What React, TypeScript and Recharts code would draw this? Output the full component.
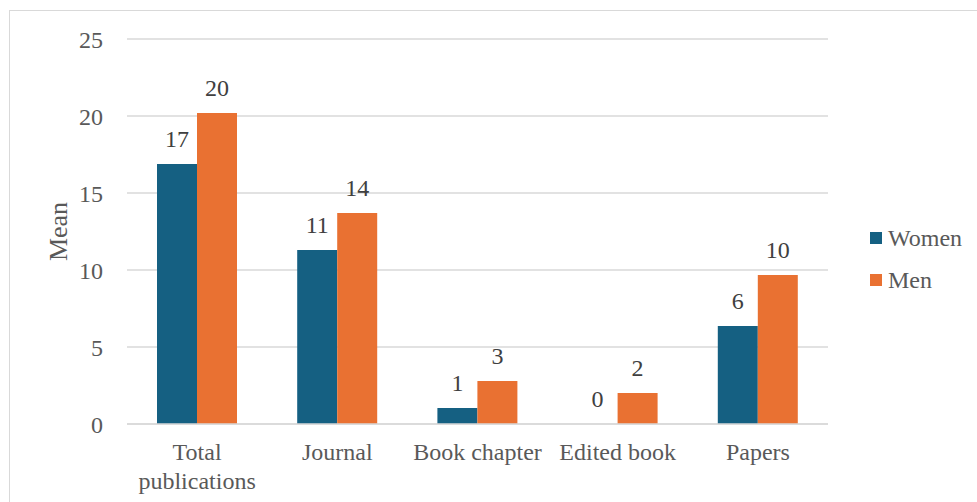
import React from 'react';
import { BarChart, Bar, Cell, XAxis, YAxis, CartesianGrid, LabelList } from 'recharts';

const categories = ['Total publications', 'Journal', 'Book chapter', 'Edited book', 'Papers'];
const women = [16.88, 11.3, 1.04, 0, 6.36];
const men = [20.19, 13.7, 2.79, 2.02, 9.68];
const yTicks = [0, 5, 10, 15, 20, 25];

const WOMEN_COLOR = '#156082';
const MEN_COLOR = '#E97132';
const TEXT_COLOR = '#595959';
const LABEL_COLOR = '#404040';
const GRID_COLOR = '#D9D9D9';
const FONT = '"Liberation Serif", "Times New Roman", serif';
const FONT_SIZE = 24;

const data = categories.map((name, i) => ({ name, Women: women[i], Men: men[i] }));

// long category names break onto one word per line
const splitLabel = (label: string) => (label.length > 14 ? label.split(' ') : [label]);

const CategoryTick = (props: any) => {
  const { x, y, payload } = props;
  const lines = splitLabel(String(payload.value));
  return (
    <text x={x} y={y} textAnchor="middle" fill={TEXT_COLOR} fontSize={FONT_SIZE} fontFamily={FONT}>
      {lines.map((line, i) => (
        <tspan key={i} x={x} dy={i === 0 ? '0.71em' : '1.2em'}>
          {line}
        </tspan>
      ))}
    </text>
  );
};

// value label drawn above each bar, including bars of zero height
const ValueLabel = (props: any) => {
  const { x, y, width, height, value } = props;
  if (x == null || y == null) return null;
  const top = Number(value) === 0 ? Number(y) + Number(height) : Number(y);
  return (
    <text
      x={Number(x) + Number(width) / 2}
      y={top - 17}
      textAnchor="middle"
      fill={LABEL_COLOR}
      fontSize={FONT_SIZE}
      fontFamily={FONT}
    >
      {Math.round(Number(value))}
    </text>
  );
};

// zero-valued bars get a hidden 1px rect so their label is still placed
const zeroMinSize = (v: any) => (Number(v) === 0 ? 1 : 0);

const legendItems = [
  { label: 'Women', color: WOMEN_COLOR },
  { label: 'Men', color: MEN_COLOR },
];

export default function App() {
  return (
    <div
      style={{
        position: 'absolute',
        left: 0,
        top: 0,
        width: 977,
        height: 502,
        overflow: 'hidden',
        background: '#fff',
        fontFamily: FONT,
      }}
    >
      <div
        style={{
          position: 'absolute',
          left: 9,
          top: 10,
          width: 980,
          height: 520,
          border: `1px solid ${GRID_COLOR}`,
        }}
      />
      <BarChart
        width={977}
        height={502}
        data={data}
        margin={{ top: 39, right: 149, bottom: 18, left: 0 }}
        barGap={0}
        barSize={40}
        style={{ position: 'absolute', left: 0, top: 0 }}
      >
        <CartesianGrid vertical={false} stroke={GRID_COLOR} strokeWidth={1.5} />
        <XAxis
          dataKey="name"
          height={60}
          axisLine={{ stroke: GRID_COLOR, strokeWidth: 1.5 }}
          tickLine={false}
          tickSize={0}
          tickMargin={19}
          interval={0}
          tick={<CategoryTick />}
        />
        <YAxis
          width={127}
          domain={[0, 25]}
          ticks={yTicks}
          axisLine={false}
          tickLine={false}
          tickSize={0}
          tickMargin={24}
          tick={{ fill: TEXT_COLOR, fontSize: FONT_SIZE, fontFamily: FONT }}
          label={{
            value: 'Mean',
            angle: -90,
            position: 'center',
            dx: -6,
            fill: TEXT_COLOR,
            fontSize: 26,
            fontFamily: FONT,
          }}
        />
        <Bar dataKey="Women" fill={WOMEN_COLOR} minPointSize={zeroMinSize} isAnimationActive={false}>
          {women.map((v, i) => (
            <Cell key={`w-${i}`} fill={v === 0 ? 'none' : WOMEN_COLOR} />
          ))}
          <LabelList dataKey="Women" content={<ValueLabel />} />
        </Bar>
        <Bar dataKey="Men" fill={MEN_COLOR} minPointSize={zeroMinSize} isAnimationActive={false}>
          {men.map((v, i) => (
            <Cell key={`m-${i}`} fill={v === 0 ? 'none' : MEN_COLOR} />
          ))}
          <LabelList dataKey="Men" content={<ValueLabel />} />
        </Bar>
      </BarChart>
      <div style={{ position: 'absolute', left: 870, top: 226 }}>
        {legendItems.map((item) => (
          <div
            key={item.label}
            style={{ display: 'flex', alignItems: 'center', height: 24, marginBottom: 18 }}
          >
            <span
              style={{ width: 12, height: 12, background: item.color, marginRight: 6, display: 'inline-block' }}
            />
            <span style={{ fontSize: FONT_SIZE, lineHeight: '24px', color: TEXT_COLOR }}>{item.label}</span>
          </div>
        ))}
      </div>
    </div>
  );
}
